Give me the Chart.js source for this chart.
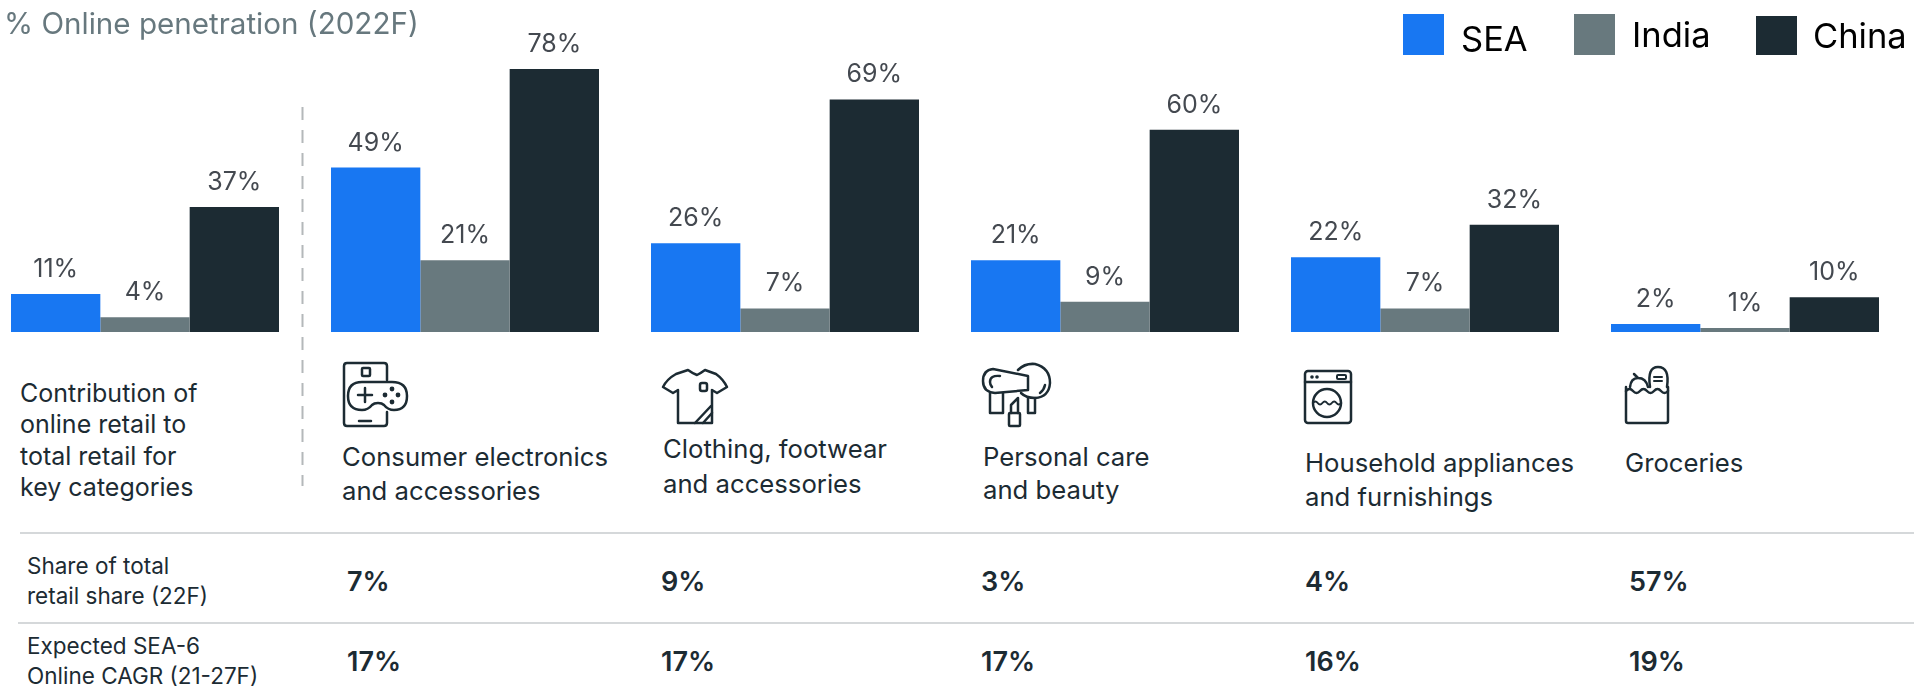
<!DOCTYPE html>
<html>
<head>
<meta charset="utf-8">
<script src="https://cdn.jsdelivr.net/npm/chart.js@4"></script>
<style>
  html, body { margin: 0; padding: 0; background: #fff; }
  #page { position: relative; width: 1914px; height: 687px; overflow: hidden; font-family: Inter, sans-serif; }
  #chartBox { position: absolute; left: -15px; top: 0; width: 1920px; height: 332px; }
  #page span { position: absolute; white-space: nowrap; line-height: 1; }
  .rule { position: absolute; height: 2px; background: #d5d8da; right: 0; }
  .swatch { position: absolute; width: 41px; }
  svg { position: absolute; overflow: visible; }
</style>
</head>
<body>
<div id="page">
  <div id="chartBox"><canvas id="penetrationChart"></canvas></div>
  <div id="labels"></div>
</div>
<script>
const categories = ['Total', 'Consumer electronics', 'Clothing', 'Personal care', 'Household', 'Groceries'];
// bar heights, labels are these rounded
const seaValues = [11.3, 48.8, 26.3, 21.3, 22.2, 2.4];
const indiaValues = [4.4, 21.3, 7, 9, 7, 1.2];
const chinaValues = [37.1, 78, 69, 60, 31.8, 10.3];
const seriesColors = ['#1877f2', '#68797e', '#1c2b33'];

// text blocks: [text, x, baseline, size, colour]
const textColor = '#1c2b33';
const textItems = [
  ['% Online penetration (2022F)', 4, 33, 29.6, '#67787e'],
  ['Contribution of', 20, 401, 25, textColor],
  ['online retail to', 20, 432, 25, textColor],
  ['total retail for', 20, 464, 25, textColor],
  ['key categories', 20, 495, 25, textColor],
  ['Consumer electronics', 342, 465, 25.7, textColor],
  ['and accessories', 342, 499, 25.7, textColor],
  ['Clothing, footwear', 663, 457, 25.7, textColor],
  ['and accessories', 663, 492, 25.7, textColor],
  ['Personal care', 983, 465, 25.7, textColor],
  ['and beauty', 983, 498, 25.7, textColor],
  ['Household appliances', 1305, 471, 25.7, textColor],
  ['and furnishings', 1305, 505, 25.7, textColor],
  ['Groceries', 1625, 471, 25.7, textColor],
  ['Share of total', 27, 573, 22.5, textColor],
  ['retail share (22F)', 27, 603, 22.5, textColor],
  ['Expected SEA-6', 27, 653, 22.5, textColor],
  ['Online CAGR (21-27F)', 27, 683, 22.5, textColor]
];
const shareRow = ['7%', '9%', '3%', '4%', '57%'];
const cagrRow = ['17%', '17%', '17%', '16%', '19%'];
const rowX = [347, 661, 981, 1305, 1629];
const legendNames = ['SEA', 'India', 'China'];

const barLabels = {
  id: 'barLabels',
  afterDatasetsDraw(chart) {
    const ctx = chart.ctx;
    ctx.save();
    ctx.font = '25px Inter';
    ctx.fillStyle = '#444950';
    ctx.textAlign = 'center';
    chart.data.datasets.forEach(function (ds, i) {
      chart.getDatasetMeta(i).data.forEach(function (bar, j) {
        ctx.fillText(Math.round(ds.data[j]) + '%', bar.x, bar.y - 17);
      });
    });
    ctx.restore();
  }
};

new Chart(document.getElementById('penetrationChart'), {
  type: 'bar',
  data: {
    labels: categories,
    datasets: [
      { label: 'SEA', data: seaValues, backgroundColor: seriesColors[0] },
      { label: 'India', data: indiaValues, backgroundColor: seriesColors[1] },
      { label: 'China', data: chinaValues, backgroundColor: seriesColors[2] }
    ]
  },
  options: {
    responsive: true,
    maintainAspectRatio: false,
    animation: false,
    layout: { padding: 0 },
    datasets: { bar: { categoryPercentage: 0.8375, barPercentage: 1 } },
    plugins: { legend: { display: false }, tooltip: { enabled: false } },
    scales: {
      x: { display: false },
      y: { display: false, min: 0, max: 98.5 }
    }
  },
  plugins: [barLabels]
});

// plain text, placed by baseline
const labelBox = document.getElementById('labels');
function addText(text, x, baseline, size, color, weight) {
  const s = document.createElement('span');
  s.textContent = text;
  s.style.cssText = 'left:' + x + 'px;top:' + (baseline - size * 0.82) + 'px;font-size:' + size + 'px;color:' + color + ';font-weight:' + (weight || 400);
  labelBox.appendChild(s);
}
textItems.forEach(function (t) { addText(t[0], t[1], t[2], t[3], t[4]); });
rowX.forEach(function (x, i) {
  addText(shareRow[i], x, 590, 27, textColor, 600);
  addText(cagrRow[i], x, 670, 27, textColor, 600);
});

// rules
[[20, 532], [18, 622]].forEach(function (r) {
  const d = document.createElement('div');
  d.className = 'rule';
  d.style.left = r[0] + 'px';
  d.style.top = r[1] + 'px';
  labelBox.appendChild(d);
});

// legend
[[1403, 14, 41, 1461, 50], [1574, 14, 41, 1632, 46], [1756, 16, 39, 1813, 47]].forEach(function (l, i) {
  const d = document.createElement('div');
  d.className = 'swatch';
  d.style.cssText = 'left:' + l[0] + 'px;top:' + l[1] + 'px;height:' + l[2] + 'px;background:' + seriesColors[i];
  labelBox.appendChild(d);
  addText(legendNames[i], l[3], l[4], 34.5, '#000');
});

// dashed divider and category icons
labelBox.insertAdjacentHTML('beforeend', `
<svg style="left:0;top:0" width="1914" height="687" fill="none" stroke="#1c2b33" stroke-width="2.5" stroke-linecap="round" stroke-linejoin="round">
  <line x1="302.5" y1="107" x2="302.5" y2="486" stroke="#b4b8ba" stroke-width="2" stroke-dasharray="13 10" stroke-linecap="butt"/>
  <g>
    <path d="M387 380V366q0-3-3-3H347q-3 0-3 3V423q0 3 3 3H384q3 0 3-3V412"/>
    <rect x="362" y="368" width="8" height="8" rx="1"/>
    <path d="M359 421h12"/>
    <path d="M362 382H392Q407 382 407 396Q407 410 394 410Q388 410 384 405Q382 403 378 403Q374 403 372 405Q368 410 362 410Q348 410 348 396Q348 382 362 382Z"/>
    <path d="M365 388v14M358 395h14"/>
    <g fill="#1c2b33" stroke="none"><circle cx="392" cy="389" r="2.4"/><circle cx="385" cy="395" r="2.4"/><circle cx="398" cy="395" r="2.4"/><circle cx="392" cy="402" r="2.4"/></g>
  </g>
  <g>
    <path d="M688 370Q692 373 697 375Q701 373 705 370L716 374Q723 379 727 387L717 393L712 390V423H678V390L673 393L663 387Q667 379 676 374Z"/>
    <rect x="700" y="383" width="7" height="8" rx="2"/>
    <path d="M695 423L711 406M703 423L712 413"/>
  </g>
  <g>
    <path d="M993 369L1028 376V390L995 393Q983 392 983 381Q983 370 993 369Z"/>
    <path d="M1000 376Q990 375 990 382Q990 385 992 387"/>
    <path d="M990 393V413H1003V393"/>
    <path d="M1018 370Q1025 363 1035 364Q1050 368 1050 383Q1049 397 1035 398Q1026 398 1021 393"/>
    <path d="M1040 393Q1044 390 1045 385"/>
    <path d="M1028 398V413H1035V398"/>
    <path d="M1011 413V405L1018 398V413"/>
    <rect x="1009" y="413" width="11" height="13" rx="1"/>
  </g>
  <g>
    <rect x="1305" y="371" width="46" height="52" rx="3"/>
    <path d="M1305 382h46"/>
    <g fill="#1c2b33" stroke="none"><circle cx="1312" cy="377" r="1.8"/><circle cx="1317" cy="377" r="1.8"/></g>
    <rect x="1337" y="375" width="9" height="4" rx="1" stroke-width="2"/>
    <circle cx="1327" cy="403" r="14"/>
    <path d="M1313 403q2.4-3 4.7 0t4.7 0t4.7 0t4.7 0t4.7 0t4.7 0" stroke-width="2"/>
  </g>
  <g>
    <path d="M1626 387V421q0 2 2 2H1666q2 0 2-2V387"/>
    <path d="M1626 391q3.5-4 7 0t7 0t7 0t7 0t7 0t7 0"/>
    <path d="M1630 387Q1631 378 1638 378Q1646 378 1648 387M1638 378L1634 374"/>
    <path d="M1650 387Q1647 367 1658 367Q1670 367 1667 387"/>
    <path d="M1654 377h8M1654 381h8" stroke-width="2"/>
  </g>
</svg>`);
</script>
</body>
</html>
